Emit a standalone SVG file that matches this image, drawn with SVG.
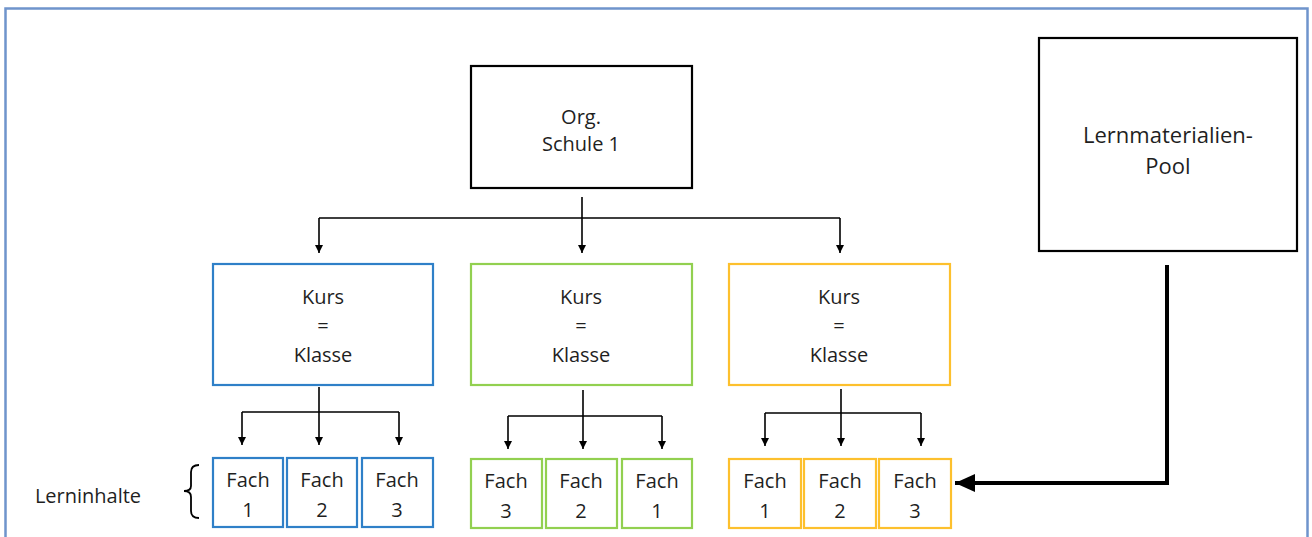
<svg xmlns="http://www.w3.org/2000/svg" width="1312" height="537" viewBox="0 0 1312 537">
  <defs>
    <marker id="tip" viewBox="0 0 10 10" refX="10" refY="5" markerWidth="8" markerHeight="8" markerUnits="userSpaceOnUse" orient="auto">
      <path d="M0,0 L10,5 L0,10 Z" fill="#000"/>
    </marker>
    <marker id="bigtip" viewBox="0 0 10 10" refX="10" refY="5" markerWidth="20" markerHeight="18" markerUnits="userSpaceOnUse" orient="auto" preserveAspectRatio="none">
      <path d="M0,0 L10,5 L0,10 Z" fill="#000"/>
    </marker>
  </defs>
  <style>
    text { font-family: "Open Sans", "Liberation Sans", sans-serif; fill: #1f1f1f; text-anchor: middle; }
    .lbl { font-size: 20px; }
    .big { font-size: 22px; }
    .box { fill: #fff; stroke-width: 2.2; }
    .blk { stroke: #000; }
    .blue { stroke: #2f80c8; }
    .green { stroke: #92d050; }
    .yellow { stroke: #fdc02d; }
    .con { fill: none; stroke: #000; stroke-width: 1.6; }
    .drop { fill: none; stroke: #000; stroke-width: 1.6; marker-end: url(#tip); }
  </style>

  <!-- page frame -->
  <rect x="5.5" y="8.5" width="1302" height="540" fill="#fff" stroke="#6f94cc" stroke-width="2.5"/>

  <!-- connectors -->
  <g id="connectors">
    <!-- school to courses -->
    <path class="con" d="M582,197 V218 M319,218 H840"/>
    <path class="drop" d="M582,218 V253"/>
    <path class="drop" d="M319,218 V253"/>
    <path class="drop" d="M840,218 V253"/>
    <!-- blue course to subjects -->
    <path class="con" d="M319,387 V412 M242,412 H399"/>
    <path class="drop" d="M242,412 V445"/>
    <path class="drop" d="M319,412 V445"/>
    <path class="drop" d="M399,412 V445"/>
    <!-- green course to subjects -->
    <path class="con" d="M583,390 V416 M508,416 H662"/>
    <path class="drop" d="M508,416 V449"/>
    <path class="drop" d="M583,416 V449"/>
    <path class="drop" d="M662,416 V449"/>
    <!-- yellow course to subjects -->
    <path class="con" d="M841,389 V413 M765,413 H921"/>
    <path class="drop" d="M765,413 V446"/>
    <path class="drop" d="M841,413 V446"/>
    <path class="drop" d="M921,413 V446"/>
    <!-- material pool to subject -->
    <path d="M1167,265 V483 H955" fill="none" stroke="#000" stroke-width="4" marker-end="url(#bigtip)"/>
  </g>

  <g id="org">
    <rect class="box blk" x="471" y="66" width="221" height="122"/>
    <text class="lbl" x="581" y="124">Org.</text>
    <text class="lbl" x="581" y="151">Schule 1</text>
  </g>

  <g id="pool">
    <rect class="box blk" x="1039" y="38" width="258" height="213"/>
    <text class="big" x="1168" y="143">Lernmaterialien-</text>
    <text class="big" x="1168" y="174">Pool</text>
  </g>

  <g id="kurs-blue">
    <rect class="box blue" x="213" y="264" width="220" height="121"/>
    <text class="lbl" x="323" y="304">Kurs</text>
    <text class="lbl" x="323" y="333">=</text>
    <text class="lbl" x="323" y="362">Klasse</text>
  </g>
  <g id="kurs-green">
    <rect class="box green" x="471" y="264" width="221" height="121"/>
    <text class="lbl" x="581" y="304">Kurs</text>
    <text class="lbl" x="581" y="333">=</text>
    <text class="lbl" x="581" y="362">Klasse</text>
  </g>
  <g id="kurs-yellow">
    <rect class="box yellow" x="729" y="264" width="221" height="121"/>
    <text class="lbl" x="839" y="304">Kurs</text>
    <text class="lbl" x="839" y="333">=</text>
    <text class="lbl" x="839" y="362">Klasse</text>
  </g>

  <!-- subjects, blue course -->
  <g id="fach-b1">
    <rect class="box blue" x="213" y="458" width="70" height="69"/>
    <text class="lbl" x="248" y="487">Fach</text><text class="lbl" x="248" y="517">1</text>
  </g>
  <g id="fach-b2">
    <rect class="box blue" x="287" y="458" width="70" height="69"/>
    <text class="lbl" x="322" y="487">Fach</text><text class="lbl" x="322" y="517">2</text>
  </g>
  <g id="fach-b3">
    <rect class="box blue" x="362" y="458" width="71" height="69"/>
    <text class="lbl" x="397" y="487">Fach</text><text class="lbl" x="397" y="517">3</text>
  </g>

  <!-- subjects, green course -->
  <g id="fach-g3">
    <rect class="box green" x="471" y="459" width="71" height="69"/>
    <text class="lbl" x="506" y="488">Fach</text><text class="lbl" x="506" y="518">3</text>
  </g>
  <g id="fach-g2">
    <rect class="box green" x="546" y="459" width="71" height="69"/>
    <text class="lbl" x="581" y="488">Fach</text><text class="lbl" x="581" y="518">2</text>
  </g>
  <g id="fach-g1">
    <rect class="box green" x="622" y="459" width="70" height="69"/>
    <text class="lbl" x="657" y="488">Fach</text><text class="lbl" x="657" y="518">1</text>
  </g>

  <!-- subjects, yellow course -->
  <g id="fach-y1">
    <rect class="box yellow" x="729" y="459" width="72" height="69"/>
    <text class="lbl" x="765" y="488">Fach</text><text class="lbl" x="765" y="518">1</text>
  </g>
  <g id="fach-y2">
    <rect class="box yellow" x="804" y="459" width="72" height="69"/>
    <text class="lbl" x="840" y="488">Fach</text><text class="lbl" x="840" y="518">2</text>
  </g>
  <g id="fach-y3">
    <rect class="box yellow" x="879" y="459" width="72" height="69"/>
    <text class="lbl" x="915" y="488">Fach</text><text class="lbl" x="915" y="518">3</text>
  </g>

  <g id="lerninhalte">
    <text class="lbl" x="88" y="503">Lerninhalte</text>
    <path d="M199,465 Q191,465 191,472 V486 Q191,491 184,491 Q191,491 191,497 V511 Q191,518 199,518" fill="none" stroke="#000" stroke-width="1.8"/>
  </g>
</svg>
